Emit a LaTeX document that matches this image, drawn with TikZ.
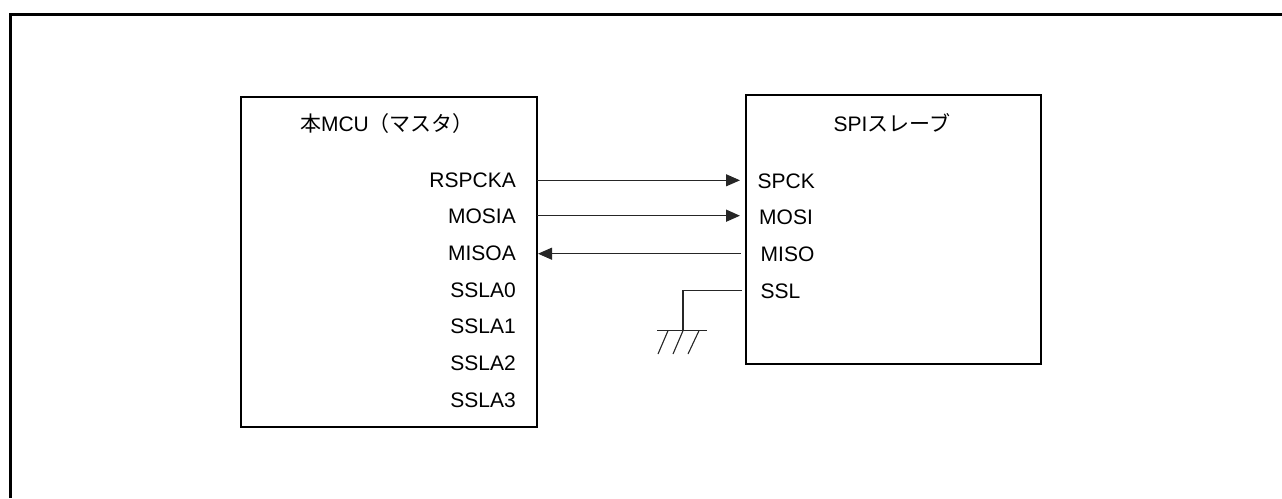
\documentclass[tikz,border=0pt]{standalone}
\usepackage{fontspec}
\setmainfont{Liberation Sans}
\newfontfamily\cjk{Noto Sans CJK JP}
\usetikzlibrary{arrows.meta}
\tikzset{x=1pt,y=-1pt,
  boxln/.style={draw=black,line width=2.4pt},
  frameln/.style={draw=black,line width=3pt},
  lbl/.style={inner sep=0pt,font=\fontsize{21}{24}\selectfont,text=black},
  wire/.style={draw=black!85,line width=1.1pt},
  arr/.style={wire,-{Triangle[length=14pt,width=12pt,sep=0pt]}}}
\begin{document}
\begin{tikzpicture}
\useasboundingbox (0,0) rectangle (1282,498);
\draw[frameln] (10.5,498) -- (10.5,14.5) -- (1282,14.5);
\node[boxln,inner sep=0pt,anchor=north west,minimum width=296pt,minimum height=330pt] (mcu) at (240,96) {};
\node[boxln,inner sep=0pt,anchor=north west,minimum width=295pt,minimum height=269pt] (spi) at (745,93.5) {};
\node[lbl] (mt) at (387,124) {{\cjk 本}MCU{\cjk （マスタ）}};
\node[lbl] (st) at (892,123) {SPI{\cjk スレーブ}};
\node[lbl,anchor=east] (rspcka) at (516,180) {RSPCKA};
\node[lbl,anchor=east] (mosia) at (516,216) {MOSIA};
\node[lbl,anchor=east] (misoa) at (516,253) {MISOA};
\node[lbl,anchor=east] (ssla0) at (516,290) {SSLA0};
\node[lbl,anchor=east] (ssla1) at (516,326) {SSLA1};
\node[lbl,anchor=east] (ssla2) at (516,363) {SSLA2};
\node[lbl,anchor=east] (ssla3) at (516,400) {SSLA3};
\node[lbl,anchor=west] (spck) at (757.5,181) {SPCK};
\node[lbl,anchor=west] (mosi) at (759,217) {MOSI};
\node[lbl,anchor=west] (miso) at (760.5,254) {MISO};
\node[lbl,anchor=west] (ssl) at (760.5,291) {SSL};
\coordinate (a1s) at (537,180.3);\coordinate (a1e) at (740,180.3);
\coordinate (a2s) at (537,215.7);\coordinate (a2e) at (740,215.7);
\coordinate (a3s) at (740.7,253.7);\coordinate (a3e) at (538,253.7);
\draw[arr] (a1s) -- (a1e);
\draw[arr,line width=1.5pt] (a2s) -- (a2e);
\draw[arr] (a3s) -- (a3e);
\coordinate (gs) at (741.7,290.7);\coordinate (gc) at (683,290.7);\coordinate (gb) at (683,330.7);
\draw[wire] (gs) -- (gc) -- (gb);
\coordinate (gl) at (657,330.7);\coordinate (gr) at (707,330.7);
\draw[wire] (gl) -- (gr);
\coordinate (h1) at (668,330.7);\coordinate (h1e) at (658,354);
\coordinate (h2) at (683,330.7);\coordinate (h2e) at (673,354);
\coordinate (h3) at (699,330.7);\coordinate (h3e) at (688,354);
\draw[wire] (h1) -- (h1e);
\draw[wire] (h2) -- (h2e);
\draw[wire] (h3) -- (h3e);
\end{tikzpicture}
\end{document}
